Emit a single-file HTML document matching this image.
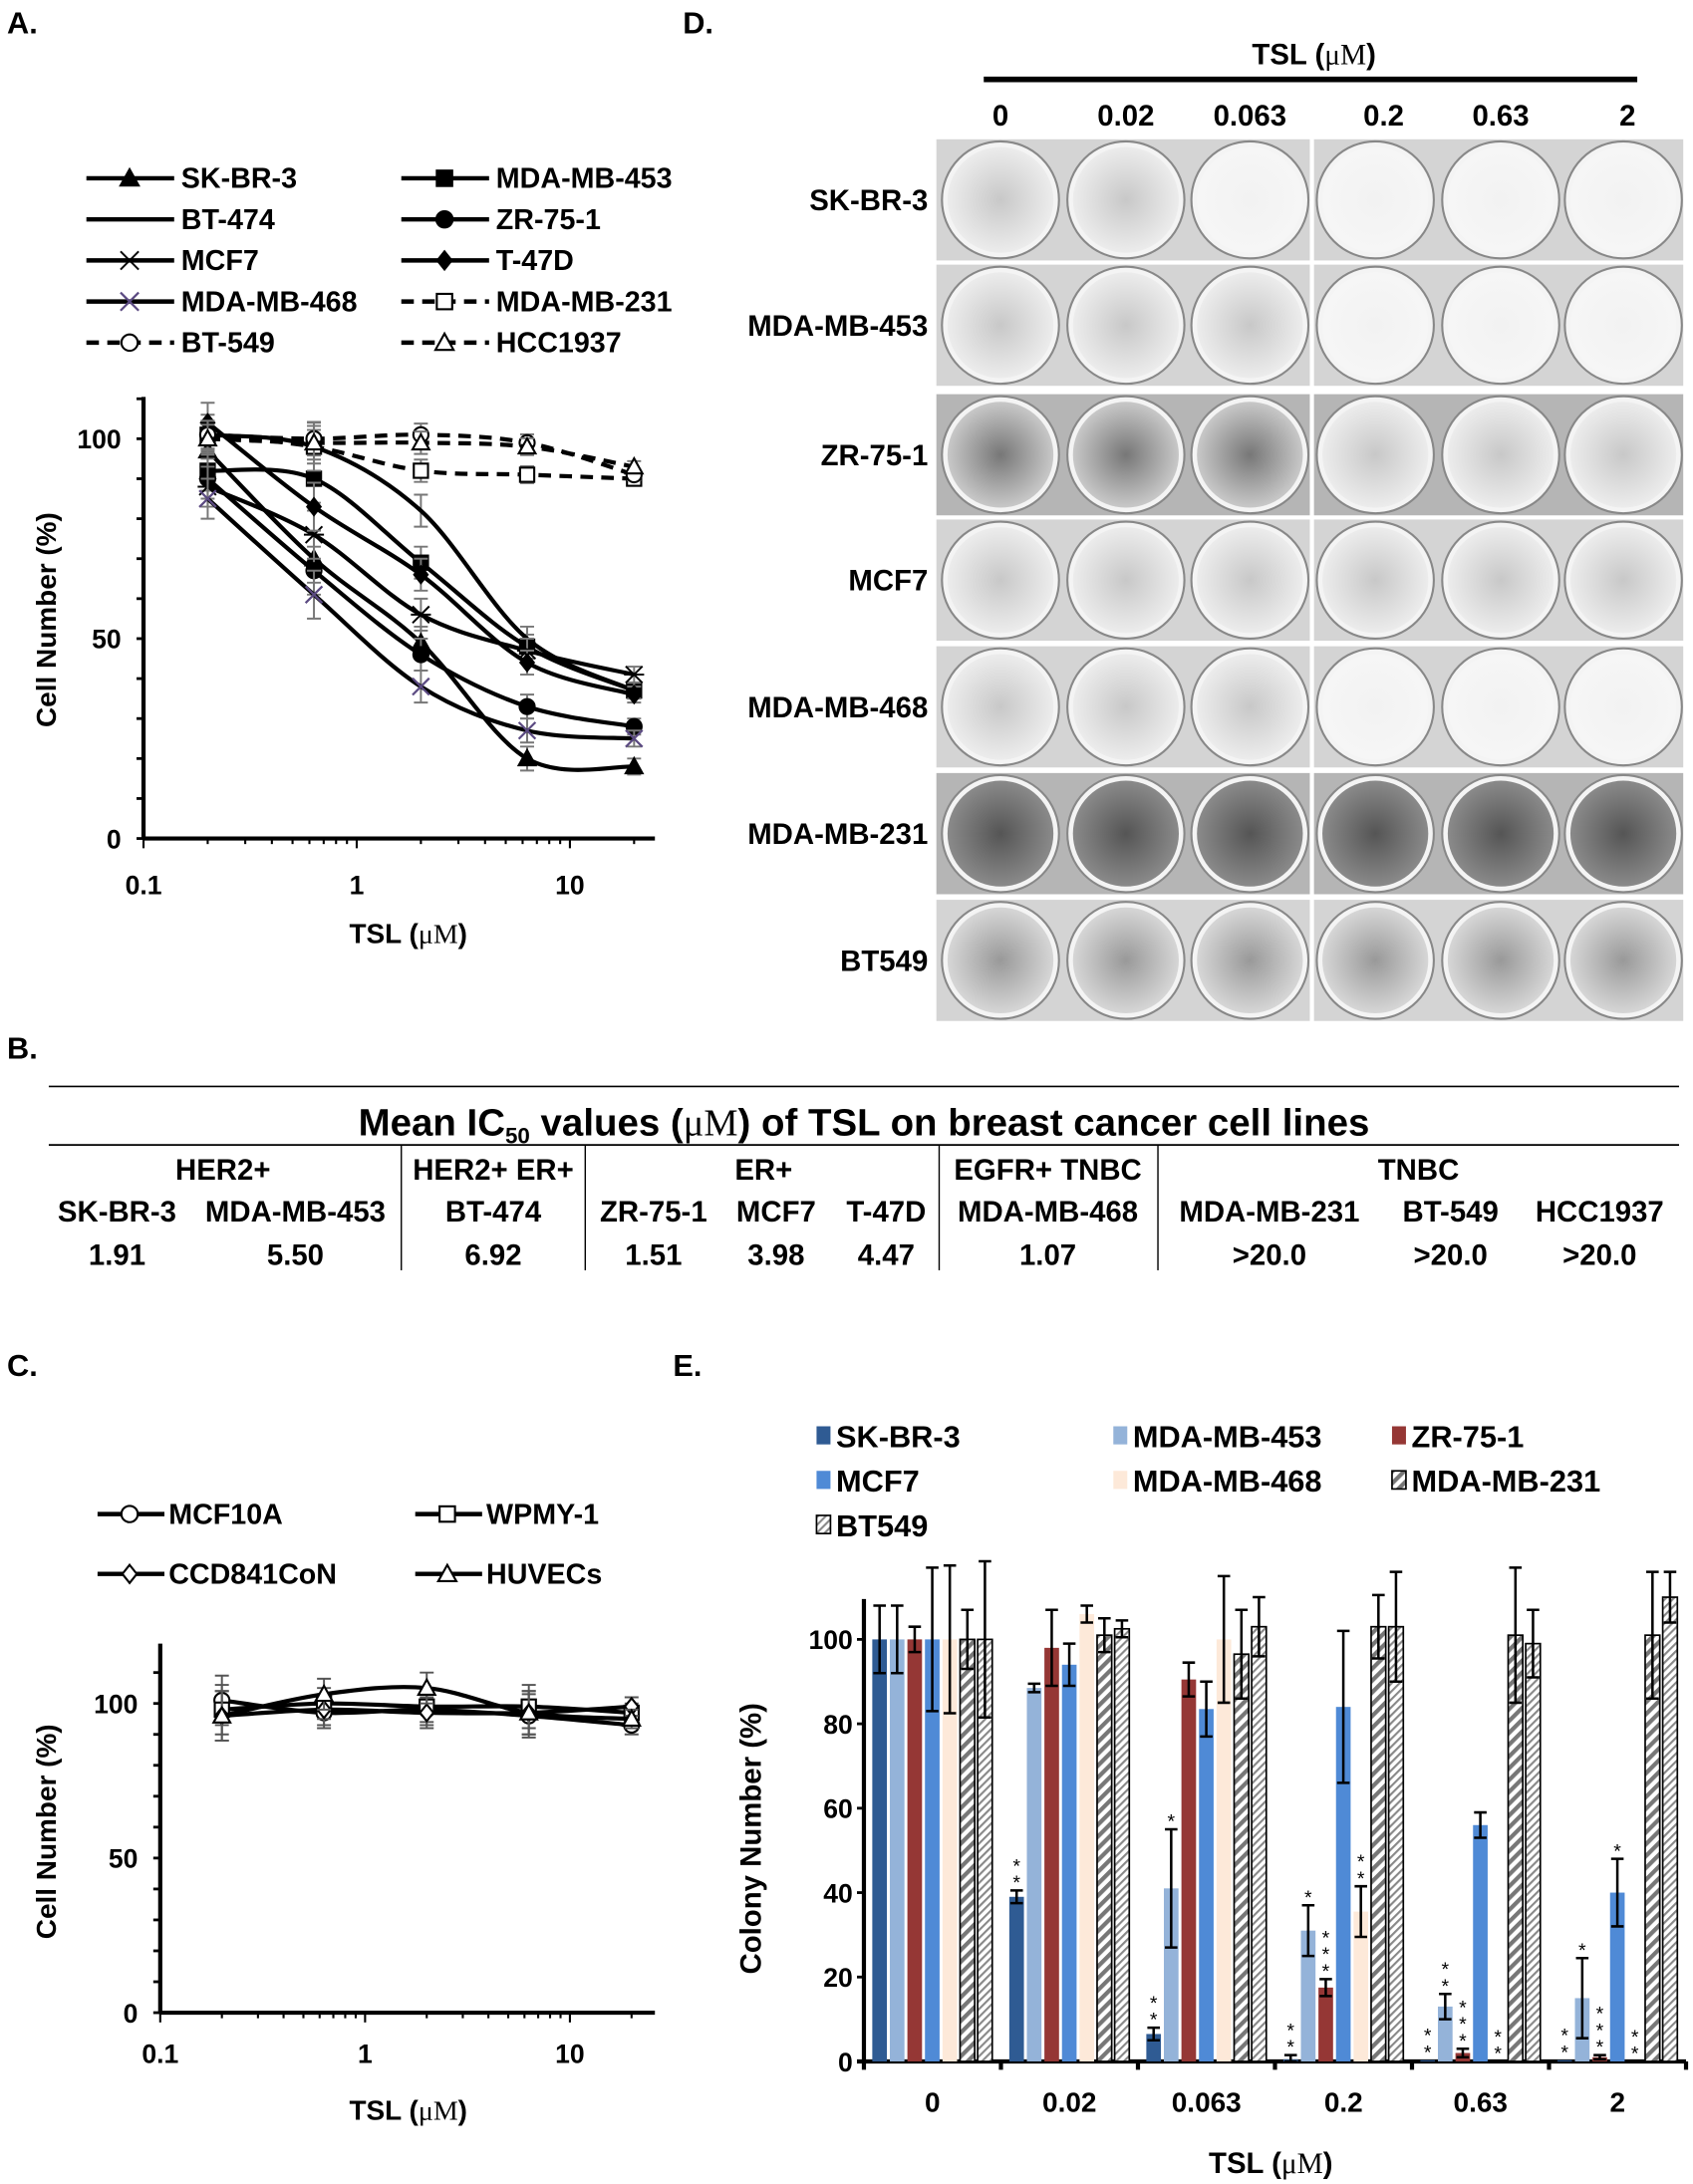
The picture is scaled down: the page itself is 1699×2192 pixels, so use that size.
<!DOCTYPE html>
<html><head><meta charset="utf-8"><title>TSL figure</title>
<style>
html,body{margin:0;padding:0;background:#fff;}
svg{display:block;font-family:"Liberation Sans",Arial,sans-serif;font-weight:bold;}
</style></head>
<body>
<svg id="fig" width="1699" height="2192" viewBox="0 0 1215 1568" preserveAspectRatio="none" xmlns="http://www.w3.org/2000/svg">
<defs>
<pattern id="hatch231" patternUnits="userSpaceOnUse" width="6" height="6" patternTransform="rotate(45)">
<rect width="6" height="6" fill="#fff"/><rect width="3" height="6" fill="#777"/></pattern>
<pattern id="hatch549" patternUnits="userSpaceOnUse" width="4" height="4" patternTransform="rotate(45)">
<rect width="4" height="4" fill="#fff"/><rect width="1.5" height="4" fill="#888"/></pattern>
<radialGradient id="dishL" cx="50%" cy="50%" r="50%"><stop offset="0" stop-color="#c8c8c8"/><stop offset="1" stop-color="#ececec"/></radialGradient>
<radialGradient id="dishM" cx="50%" cy="50%" r="50%"><stop offset="0" stop-color="#777"/><stop offset="1" stop-color="#c8c8c8"/></radialGradient>
<radialGradient id="dishD" cx="50%" cy="50%" r="50%"><stop offset="0" stop-color="#555"/><stop offset="1" stop-color="#8a8a8a"/></radialGradient>
<radialGradient id="dishE" cx="50%" cy="50%" r="50%"><stop offset="0" stop-color="#f2f2f2"/><stop offset="1" stop-color="#f6f6f6"/></radialGradient>
<radialGradient id="dishB" cx="50%" cy="50%" r="50%"><stop offset="0" stop-color="#999"/><stop offset="1" stop-color="#d6d6d6"/></radialGradient>
</defs>

<text x="5" y="24" font-size="22">A.</text>
<text x="490" y="24" font-size="22">D.</text>
<text x="5" y="760" font-size="22">B.</text>
<text x="5" y="988" font-size="22">C.</text>
<text x="483" y="988" font-size="22">E.</text>

<g id="panelA"></g>
<g id="panelC"></g>
<g id="panelD"></g>
<g id="panelE"></g>

<g font-size="21" text-anchor="middle">
<line x1="35" y1="780" x2="1205" y2="780" stroke="#000" stroke-width="1.2"/>
<text x="620" y="815" font-size="27.5">Mean IC<tspan font-size="16" dy="6">50</tspan><tspan dy="-6"> values (</tspan><tspan font-family="Liberation Serif" font-weight="normal">μM</tspan>) of TSL on breast cancer cell lines</text>
<line x1="35" y1="822" x2="1205" y2="822" stroke="#000" stroke-width="1.2"/>
<line x1="288" y1="822" x2="288" y2="912" stroke="#000"/>
<line x1="420" y1="822" x2="420" y2="912" stroke="#000"/>
<line x1="674" y1="822" x2="674" y2="912" stroke="#000"/>
<line x1="831" y1="822" x2="831" y2="912" stroke="#000"/>
<text x="160" y="847">HER2+</text>
<text x="354" y="847">HER2+ ER+</text>
<text x="548" y="847">ER+</text>
<text x="752" y="847">EGFR+ TNBC</text>
<text x="1018" y="847">TNBC</text>
<text x="84" y="877">SK-BR-3</text>
<text x="212" y="877">MDA-MB-453</text>
<text x="354" y="877">BT-474</text>
<text x="469" y="877">ZR-75-1</text>
<text x="557" y="877">MCF7</text>
<text x="636" y="877">T-47D</text>
<text x="752" y="877">MDA-MB-468</text>
<text x="911" y="877">MDA-MB-231</text>
<text x="1041" y="877">BT-549</text>
<text x="1148" y="877">HCC1937</text>
<text x="84" y="908">1.91</text>
<text x="212" y="908">5.50</text>
<text x="354" y="908">6.92</text>
<text x="469" y="908">1.51</text>
<text x="557" y="908">3.98</text>
<text x="636" y="908">4.47</text>
<text x="752" y="908">1.07</text>
<text x="911" y="908">&gt;20.0</text>
<text x="1041" y="908">&gt;20.0</text>
<text x="1148" y="908">&gt;20.0</text>
</g>
</svg>

<script>
const NS = "http://www.w3.org/2000/svg";
function mk(parent, tag, attrs, txt) {
  const e = document.createElementNS(NS, tag);
  for (const k in attrs) e.setAttribute(k, attrs[k]);
  if (txt !== undefined) e.textContent = txt;
  parent.appendChild(e);
  return e;
}

// ---------- Panel A data ----------
const doseA = [0.2, 0.63, 2, 6.3, 20];
const namesA = ["SK-BR-3","MDA-MB-453","BT-474","ZR-75-1","MCF7","T-47D","MDA-MB-468","MDA-MB-231","BT-549","HCC1937"];
const skbr3A = [97, 70, 49, 20, 18];
const mdamb453A = [92, 90, 69, 48, 37];
const bt474A = [101, 98, 82, 50, 37];
const zr751A = [90, 67, 46, 33, 28];
const mcf7A = [88, 76, 56, 47, 41];
const t47dA = [104, 83, 66, 44, 36];
const mdamb468A = [85, 61, 38, 27, 25];
const mdamb231A = [101, 98, 92, 91, 90];
const bt549A = [101, 100, 101, 99, 91];
const hcc1937A = [100, 99, 99, 98, 93];
const errA = [5, 6, 4, 3, 2];
const yTicksA = [0, 50, 100];
const xTicksA = [0.1, 1, 10];

// ---------- Panel C data ----------
const doseC = [0.2, 0.63, 2, 6.3, 20];
const namesC = ["MCF10A","WPMY-1","CCD841CoN","HUVECs"];
const mcf10aC = [101, 97, 98, 96, 93];
const wpmy1C = [98, 100, 99, 99, 97];
const ccd841C = [96, 98, 97, 97, 99];
const huvecC = [96, 103, 105, 97, 95];
const errC = [8, 5, 5, 7, 3];
const yTicksC = [0, 50, 100];
const xTicksC = [0.1, 1, 10];

// ---------- Panel E data ----------
const groupsE = ["0","0.02","0.063","0.2","0.63","2"];
const seriesNamesE = ["SK-BR-3","MDA-MB-453","ZR-75-1","MCF7","MDA-MB-468","MDA-MB-231","BT549"];
const skbr3E = [100, 39, 6.5, 0.5, 0.3, 0.3];
const mdamb453E = [100, 88.5, 41, 31, 13, 15];
const zr751E = [100, 98, 90.5, 17.5, 2, 1];
const mcf7E = [100, 94, 83.5, 84, 56, 40];
const mdamb468E = [100, 106, 100, 35.5, 0, 0];
const mdamb231E = [100, 101, 96.5, 103, 101, 101];
const bt549E = [100, 102.5, 103, 103, 99, 110];
const skbr3Err = [8, 1.5, 1.5, 1, 0, 0];
const mdamb453Err = [8, 1, 14, 6, 3, 9.5];
const zr751Err = [3, 9, 4, 2, 1, 0.5];
const mcf7Err = [17, 5, 6.5, 18, 3, 8];
const mdamb468Err = [17.5, 2, 15, 6, 0, 0];
const mdamb231Err = [7, 4, 10.5, 7.5, 16, 15];
const bt549Err = [18.5, 2, 7, 13, 8, 6];
const starsE = [
  ["", "**", "**", "**", "**", "**"],
  ["", "", "*", "*", "**", "*"],
  ["", "", "", "***", "***", "***"],
  ["", "", "", "", "", "*"],
  ["", "", "", "**", "**", "**"],
  ["", "", "", "", "", ""],
  ["", "", "", "", "", ""]
];
const yTicksE = [0, 20, 40, 60, 80, 100];

function smoothPath(pts) {
  let d = "M" + pts[0][0] + "," + pts[0][1];
  for (let i = 0; i < pts.length - 1; i++) {
    const p0 = pts[i - 1] || pts[i], p1 = pts[i], p2 = pts[i + 1], p3 = pts[i + 2] || p2;
    const c1 = [p1[0] + (p2[0] - p0[0]) / 6, p1[1] + (p2[1] - p0[1]) / 6];
    const c2 = [p2[0] - (p3[0] - p1[0]) / 6, p2[1] - (p3[1] - p1[1]) / 6];
    d += " C" + c1[0] + "," + c1[1] + " " + c2[0] + "," + c2[1] + " " + p2[0] + "," + p2[1];
  }
  return d;
}
function marker(g, type, x, y, s, col) {
  const fill = type.startsWith("open") ? "#fff" : col;
  if (type === "tri" || type === "opentri") return mk(g, "polygon", {points: `${x},${y-s} ${x+s},${y+s*0.8} ${x-s},${y+s*0.8}`, fill: fill, stroke: col, "stroke-width": 1.5});
  if (type === "sq" || type === "opensq") return mk(g, "rect", {x: x-s*0.85, y: y-s*0.85, width: s*1.7, height: s*1.7, fill: fill, stroke: col, "stroke-width": 1.5});
  if (type === "circ" || type === "opencirc") return mk(g, "circle", {cx: x, cy: y, r: s*0.9, fill: fill, stroke: col, "stroke-width": 1.5});
  if (type === "dia" || type === "opendia") return mk(g, "polygon", {points: `${x},${y-s} ${x+s*0.8},${y} ${x},${y+s} ${x-s*0.8},${y}`, fill: fill, stroke: col, "stroke-width": 1.5});
  if (type === "x") return mk(g, "path", {d: `M${x-s},${y-s}L${x+s},${y+s}M${x-s},${y+s}L${x+s},${y-s}`, stroke: col, "stroke-width": 1.6, fill: "none"});
  if (type === "star") return mk(g, "path", {d: `M${x-s},${y-s}L${x+s},${y+s}M${x-s},${y+s}L${x+s},${y-s}M${x-s*1.2},${y}L${x+s*1.2},${y}`, stroke: col, "stroke-width": 1.4, fill: "none"});
  return null;
}

// ---------- Panel A ----------
(function () {
  const g = document.getElementById("panelA");
  const X0 = 103, DEC = 153, Y0 = 602, PPU = 2.87;
  const xs = v => X0 + Math.log10(v / 0.1) * DEC;
  const ys = v => Y0 - v * PPU;
  const data = [skbr3A, mdamb453A, bt474A, zr751A, mcf7A, t47dA, mdamb468A, mdamb231A, bt549A, hcc1937A];
  const mk_ = ["tri","sq","none","circ","star","dia","x","opensq","opencirc","opentri"];
  const dash = [0,0,0,0,0,0,0,1,1,1];
  const mcol = ["#000","#000","#000","#000","#000","#000","#5b4a82","#000","#000","#000"];
  for (let i = 0; i < namesA.length; i++) {
    const col = i % 2, row = Math.floor(i / 2);
    const lx = col ? 288 : 62, ly = 128 + row * 29.5;
    const lg = mk(g, "g", {});
    
    
    mk(lg, "line", {x1: lx, y1: ly, x2: lx + 63, y2: ly, stroke: "#000", "stroke-width": 3.2, "stroke-dasharray": dash[i] ? "9,6" : "none"});
    marker(lg, mk_[i], lx + 31, ly, 6.5, mcol[i]);
    mk(lg, "text", {x: lx + 68, y: ly + 7, "font-size": 20.5}, namesA[i]);
  }
  const ax = mk(g, "g", {});
  
  
  mk(ax, "line", {x1: X0, y1: 285, x2: X0, y2: Y0, stroke: "#000", "stroke-width": 3});
  mk(ax, "line", {x1: X0, y1: Y0, x2: 470, y2: Y0, stroke: "#000", "stroke-width": 3});
  for (let v = 0; v <= 110; v += 10) mk(ax, "line", {x1: X0 - 5, y1: ys(v), x2: X0, y2: ys(v), stroke: "#000", "stroke-width": 2});
  for (let d = 0.1; d < 30; d *= 10) for (let k = 1; k <= 9; k++) { const x = xs(d * k); if (x > 470) break; mk(ax, "line", {x1: x, y1: Y0, x2: x, y2: Y0 + (k === 1 ? 7 : 4), stroke: "#000", "stroke-width": 1.5}); }
  yTicksA.forEach(v => { const t = mk(ax, "text", {x: X0 - 16, y: ys(v) + 7, "text-anchor": "end", "font-size": 19}, String(v));   });
  xTicksA.forEach(v => { const t = mk(ax, "text", {x: xs(v), y: 642, "text-anchor": "middle", "font-size": 19}, String(v));   });
  const yt = mk(ax, "text", {x: 0, y: 0, transform: "translate(40,445) rotate(-90)", "text-anchor": "middle", "font-size": 20}, "Cell Number (%)");
  
  
  const xt = mk(ax, "text", {x: 293, y: 677, "text-anchor": "middle", "font-size": 20}, "TSL (");
  
  
  mk(xt, "tspan", {"font-family": "Liberation Serif", "font-weight": "normal"}, "μM");
  mk(xt, "tspan", {}, ")");
  data.forEach((arr, i) => {
    const sg = mk(g, "g", {});
    
    
    const pts = arr.map((v, j) => [xs(doseA[j]), ys(v)]);
    arr.forEach((v, j) => {
      const e = errA[j] * (i >= 7 ? 0.7 : 1);
      mk(sg, "path", {d: `M${pts[j][0]},${ys(v + e)}V${ys(v - e)}M${pts[j][0]-5},${ys(v + e)}h10M${pts[j][0]-5},${ys(v - e)}h10`, stroke: "#777", "stroke-width": 1.4, fill: "none"});
    });
    mk(sg, "path", {d: smoothPath(pts), fill: "none", stroke: "#000", "stroke-width": 3, "stroke-dasharray": dash[i] ? "9,6" : "none"});
    pts.forEach(p => marker(sg, mk_[i], p[0], p[1], 6, mcol[i]));
  });
})();

// ---------- Panel C ----------
(function () {
  const g = document.getElementById("panelC");
  const X0 = 115, DEC = 147, Y0 = 1445, PPU = 2.22;
  const xs = v => X0 + Math.log10(v / 0.1) * DEC;
  const ys = v => Y0 - v * PPU;
  const data = [mcf10aC, wpmy1C, ccd841C, huvecC];
  const mks = ["opencirc", "opensq", "opendia", "opentri"];
  for (let i = 0; i < namesC.length; i++) {
    const col = i % 2, row = Math.floor(i / 2);
    const lx = col ? 298 : 70, ly = 1087 + row * 43;
    const lg = mk(g, "g", {});
    
    
    mk(lg, "line", {x1: lx, y1: ly, x2: lx + 48, y2: ly, stroke: "#000", "stroke-width": 3.2});
    marker(lg, mks[i], lx + 23, ly, 6.5, "#000");
    mk(lg, "text", {x: lx + 51, y: ly + 7, "font-size": 20.5}, namesC[i]);
  }
  const ax = mk(g, "g", {});
  
  
  mk(ax, "line", {x1: X0, y1: 1180, x2: X0, y2: Y0, stroke: "#000", "stroke-width": 3});
  mk(ax, "line", {x1: X0, y1: Y0, x2: 470, y2: Y0, stroke: "#000", "stroke-width": 3});
  for (let v = 0; v <= 110; v += 10) mk(ax, "line", {x1: X0 - 5, y1: ys(v), x2: X0, y2: ys(v), stroke: "#000", "stroke-width": 2});
  for (let d = 0.1; d < 30; d *= 10) for (let k = 1; k <= 9; k++) { const x = xs(d * k); if (x > 470) break; mk(ax, "line", {x1: x, y1: Y0, x2: x, y2: Y0 + (k === 1 ? 7 : 4), stroke: "#000", "stroke-width": 1.5}); }
  yTicksC.forEach(v => { const t = mk(ax, "text", {x: X0 - 16, y: ys(v) + 7, "text-anchor": "end", "font-size": 19}, String(v));   });
  xTicksC.forEach(v => { const t = mk(ax, "text", {x: xs(v), y: 1481, "text-anchor": "middle", "font-size": 19}, String(v));   });
  const yt = mk(ax, "text", {x: 0, y: 0, transform: "translate(40,1315) rotate(-90)", "text-anchor": "middle", "font-size": 20}, "Cell Number (%)");
  
  
  const xt = mk(ax, "text", {x: 293, y: 1522, "text-anchor": "middle", "font-size": 20}, "TSL (");
  
  
  mk(xt, "tspan", {"font-family": "Liberation Serif", "font-weight": "normal"}, "μM");
  mk(xt, "tspan", {}, ")");
  data.forEach((arr, i) => {
    const sg = mk(g, "g", {});
    
    
    const pts = arr.map((v, j) => [xs(doseC[j]), ys(v)]);
    arr.forEach((v, j) => {
      const e = errC[j];
      mk(sg, "path", {d: `M${pts[j][0]},${ys(v + e)}V${ys(v - e)}M${pts[j][0]-5},${ys(v + e)}h10M${pts[j][0]-5},${ys(v - e)}h10`, stroke: "#555", "stroke-width": 1.4, fill: "none"});
    });
    mk(sg, "path", {d: smoothPath(pts), fill: "none", stroke: "#000", "stroke-width": 3});
    pts.forEach(p => marker(sg, mks[i], p[0], p[1], 6, "#000"));
  });
})();

// ---------- Panel D ----------
(function () {
  const g = document.getElementById("panelD");
  const rowsD = ["SK-BR-3","MDA-MB-453","ZR-75-1","MCF7","MDA-MB-468","MDA-MB-231","BT549"];
  const colsD = ["0","0.02","0.063","0.2","0.63","2"];
  const dens = [["L","L","E","E","E","E"],["L","L","L","E","E","E"],["M","M","M","L","L","L"],["L","L","L","L","L","L"],["L","L","L","E","E","E"],["D","D","D","D","D","D"],["B","B","B","B","B","B"]];
  const t = mk(g, "text", {x: 943, y: 46, "text-anchor": "middle", "font-size": 21}, "TSL (");
  
  
  mk(t, "tspan", {"font-family": "Liberation Serif", "font-weight": "normal"}, "μM");
  mk(t, "tspan", {}, ")");
  const hl = mk(g, "line", {x1: 706, y1: 57, x2: 1175, y2: 57, stroke: "#000", "stroke-width": 4});
  
  
  const cx = [718, 808, 897, 993, 1077, 1168];
  const dx = [718, 808, 897, 987, 1077, 1165];
  colsD.forEach((c, i) => { const e = mk(g, "text", {x: cx[i], y: 90, "text-anchor": "middle", "font-size": 21}, c);   });
  const ry = [100, 190, 283, 373, 464, 555, 646];
  rowsD.forEach((r, i) => {
    const rg = mk(g, "g", {});
    
    
    const bg = (dens[i][0] === "D" || dens[i][0] === "M") ? "#b5b5b5" : "#d4d4d4";
    mk(rg, "rect", {x: 672, y: ry[i], width: 268, height: 87, fill: bg});
    mk(rg, "rect", {x: 943, y: ry[i], width: 265, height: 87, fill: bg});
    for (let j = 0; j < 6; j++) {
      mk(rg, "circle", {cx: dx[j], cy: ry[i] + 43.5, r: 42, fill: "#f4f4f4", stroke: "#888", "stroke-width": 1.5});
      mk(rg, "circle", {cx: dx[j], cy: ry[i] + 43.5, r: 38, fill: "url(#dish" + dens[i][j] + ")"});
    }
    mk(rg, "text", {x: 666, y: ry[i] + 51, "text-anchor": "end", "font-size": 21}, r);
  });
})();

// ---------- Panel E ----------
(function () {
  const g = document.getElementById("panelE");
  const X0 = 620, X1 = 1210, Y0 = 1480, PPU = 3.03;
  const ys = v => Y0 - v * PPU;
  const gw = (X1 - X0) / groupsE.length;
  const vals = [skbr3E, mdamb453E, zr751E, mcf7E, mdamb468E, mdamb231E, bt549E];
  const errs = [skbr3Err, mdamb453Err, zr751Err, mcf7Err, mdamb468Err, mdamb231Err, bt549Err];
  const fills = ["#2f5b93", "#94b3d9", "#953735", "#4f8ad6", "#fde9d9", "url(#hatch231)", "url(#hatch549)"];
  const strokes = ["none", "none", "none", "none", "none", "#000", "#000"];
  const legX = [586, 799, 999], legY = [1031, 1063, 1095];
  seriesNamesE.forEach((n, i) => {
    const lx = legX[i % 3], ly = legY[Math.floor(i / 3)];
    const lg = mk(g, "g", {});
    
    
    mk(lg, "rect", {x: lx, y: ly - 7, width: 10, height: 13, fill: fills[i], stroke: strokes[i], "stroke-width": 1.2});
    mk(lg, "text", {x: lx + 14, y: ly + 8, "font-size": 22}, n);
  });
  const ax = mk(g, "g", {});
  
  
  mk(ax, "line", {x1: X0, y1: 1148, x2: X0, y2: Y0, stroke: "#000", "stroke-width": 3});
  mk(ax, "line", {x1: X0 - 5, y1: Y0, x2: X1, y2: Y0, stroke: "#000", "stroke-width": 3});
  for (let k = 0; k <= groupsE.length; k++) mk(ax, "line", {x1: X0 + k * gw, y1: Y0, x2: X0 + k * gw, y2: Y0 + 6, stroke: "#000", "stroke-width": 3});
  yTicksE.forEach(v => {
    mk(ax, "line", {x1: X0 - 5, y1: ys(v), x2: X0, y2: ys(v), stroke: "#000", "stroke-width": 2});
    const t = mk(ax, "text", {x: X0 - 8, y: ys(v) + 7, "text-anchor": "end", "font-size": 19}, String(v));
    
    
  });
  groupsE.forEach((c, k) => {
    const t = mk(ax, "text", {x: X0 + (k + 0.5) * gw, y: 1516, "text-anchor": "middle", "font-size": 20}, c);
    
    
  });
  const yt = mk(ax, "text", {x: 0, y: 0, transform: "translate(546,1320) rotate(-90)", "text-anchor": "middle", "font-size": 21}, "Colony Number (%)");
  
  
  const xt = mk(ax, "text", {x: 912, y: 1560, "text-anchor": "middle", "font-size": 21}, "TSL (");
  
  
  mk(xt, "tspan", {"font-family": "Liberation Serif", "font-weight": "normal"}, "μM");
  mk(xt, "tspan", {}, ")");
  const bw = 10.5, step = 12.6;
  vals.forEach((arr, i) => {
    const sg = mk(g, "g", {});
    
    
    arr.forEach((v, k) => {
      const x = X0 + k * gw + 6 + i * step;
      const b = mk(sg, "rect", {x: x, y: ys(v), width: bw, height: Y0 - ys(v), fill: fills[i], stroke: strokes[i], "stroke-width": 1.2});
      
      
      const e = errs[i][k], mx = x + bw / 2;
      if (e > 0) mk(sg, "path", {d: `M${mx},${ys(v + e)}V${ys(Math.max(0, v - e))}M${mx-4.5},${ys(v + e)}h9M${mx-4.5},${ys(Math.max(0, v - e))}h9`, stroke: "#000", "stroke-width": 1.8, fill: "none"});
      const s = starsE[i][k];
      if (s) {
        const top = ys(v + e) - 6;
        for (let q = 0; q < s.length; q++) mk(sg, "text", {x: mx, y: top - q * 12 + 5, "text-anchor": "middle", "font-size": 14, "font-weight": "normal"}, "*");
      }
    });
  });
})();
</script>
</body></html>
